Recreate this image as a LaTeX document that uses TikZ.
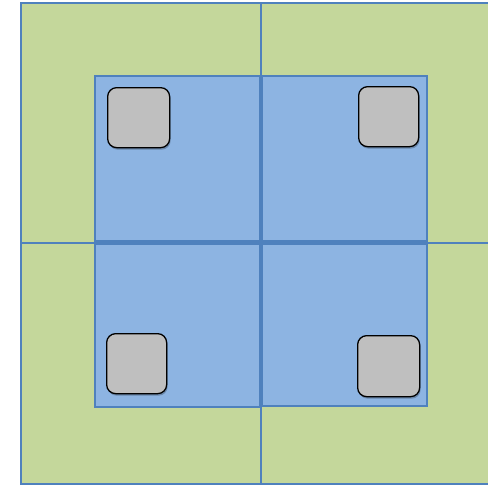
\documentclass[tikz,border=0pt]{standalone}
\usetikzlibrary{shadows}
\definecolor{grn}{HTML}{C4D79B}
\definecolor{blu}{HTML}{8DB4E2}
\definecolor{edge}{HTML}{4F81BD}
\definecolor{gry}{HTML}{BFBFBF}
\begin{document}
\begin{tikzpicture}[x=1pt,y=-1pt,
  greenbox/.style={draw=edge,fill=grn,line width=1.2pt,anchor=north west,inner sep=0pt,outer sep=0pt},
  bluebox/.style={draw=edge,fill=blu,line width=1.2pt,anchor=north west,inner sep=0pt,outer sep=0pt},
  chip/.style={draw=black,fill=gry,line width=1.3pt,rounded corners=9pt,anchor=north west,inner sep=0pt,
    drop shadow={shadow xshift=1pt,shadow yshift=-2pt,opacity=0.25,fill=black}}]
\useasboundingbox (0,0) rectangle (488,485);
\node[greenbox,minimum width=240pt,minimum height=240pt] (g1) at (21,3) {};
\node[greenbox,minimum width=232pt,minimum height=240pt] (g2) at (261,3) {};
\node[greenbox,minimum width=240pt,minimum height=241pt] (g3) at (21,243) {};
\node[greenbox,minimum width=232pt,minimum height=241pt] (g4) at (261,243) {};
\node[bluebox,minimum width=165pt,minimum height=165pt] (b1) at (95,76) {};
\node[bluebox,minimum width=165pt,minimum height=165pt] (b2) at (262,76) {};
\node[bluebox,minimum width=165pt,minimum height=163pt] (b3) at (95,244) {};
\node[bluebox,minimum width=165pt,minimum height=162pt] (b4) at (262,244) {};
\node[chip,minimum width=62pt,minimum height=60pt] (c1) at (107,87) {};
\node[chip,minimum width=60pt,minimum height=60pt] (c2) at (358,86) {};
\node[chip,minimum width=60pt,minimum height=60pt] (c3) at (106,333) {};
\node[chip,minimum width=62pt,minimum height=61pt] (c4) at (357,335) {};
\end{tikzpicture}
\end{document}
